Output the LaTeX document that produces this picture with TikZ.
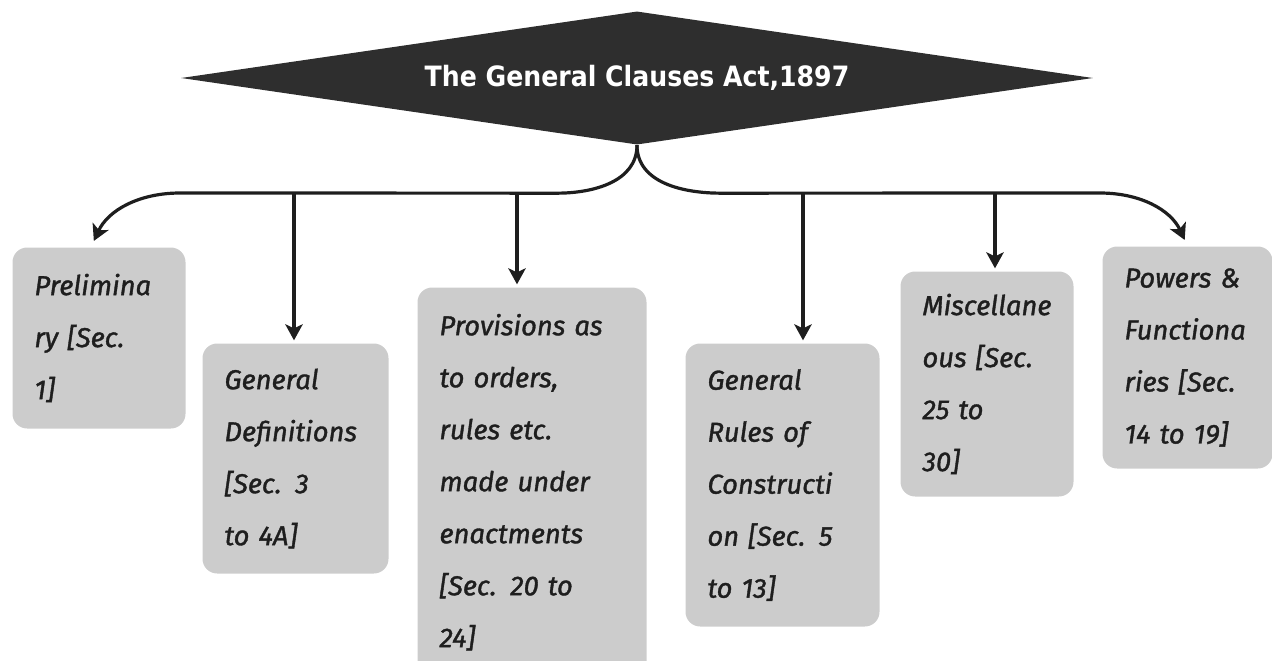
\documentclass[tikz,border=0pt]{standalone}
\usepackage{fontspec}
\setmainfont{Fira Sans}
\newfontfamily\titlefont{DejaVu Sans Condensed}
\newfontfamily\boxfont{Fira Sans}[FakeBold=1.3]
\usetikzlibrary{shapes.geometric,arrows.meta}

\definecolor{actfill}{HTML}{2E2E2E}
\definecolor{boxgray}{HTML}{CCCCCC}
\definecolor{inkdark}{HTML}{1E1E1E}

\tikzset{every picture/.style={line width=0.75pt}}
\tikzset{
  actshape/.style={diamond, fill=actfill, aspect=6.84, minimum width=684pt, minimum height=100pt, inner sep=0pt, text=white, font=\titlefont\bfseries\fontsize{21pt}{25pt}\selectfont},
  secbox/.style={anchor=north west, fill=boxgray, rounded corners=11pt, inner xsep=16.5pt, inner ysep=6pt, align=left, text=inkdark, font=\boxfont\fontsize{20.5pt}{39pt}\selectfont\itshape},
  link/.style={draw=inkdark, line width=2.4pt, -{Stealth[length=12pt,width=13pt,inset=3pt]}},
}

\begin{document}
\begin{tikzpicture}[x=0.75pt,y=0.75pt,yscale=-1,xscale=1]
%set diagram left start at 0, and has height of 661
\clip (0,0) rectangle (1272,661);

%Shape: Diamond [id:act]
\node [actshape] (act) at (637,78) {The General Clauses Act,1897};

% Text Node
\node [secbox, text width=96.75pt, minimum height=135.75pt] (prelim) at (12,247) {Prelimina\\ry {[}Sec.\\1]};
% Text Node
\node [secbox, text width=106.5pt, minimum height=172.5pt] (defs) at (202,343) {General\\Definitions\\{[}Sec. 3\\to 4A]};
% Text Node
\node [secbox, text width=138.75pt, minimum height=292pt] (orders) at (417,287) {Provisions as\\to orders,\\rules etc.\\made under\\enactments\\{[}Sec. 20 to\\24]};
% Text Node
\node [secbox, text width=112.5pt, minimum height=212.25pt] (rules) at (685,343) {General\\Rules of\\Constructi\\on {[}Sec. 5\\to 13]};
% Text Node
\node [secbox, text width=96.75pt, minimum height=168.75pt] (misc) at (900,271) {Miscellane\\ous {[}Sec.\\25 to\\30]};
% Text Node
\node [secbox, text width=94.5pt, minimum height=166.5pt] (powers) at (1102,246) {Powers \&\\Functiona\\ries {[}Sec.\\14 to 19]};

%Shape: Bus with outer arrows (y is flipped, so angles are mirrored)
\draw [link, shorten >=5pt] (act.south) to[out=90,in=0] ++(-80,48) -- (180,193) to[out=180,in=-65] ([xshift=-6pt]prelim.north);
\draw [link, shorten >=5pt] (act.south) to[out=90,in=180] ++(84,48) -- (1100,193) to[out=0,in=-115] (powers.north);

%Shape: Drop points on the bus
\coordinate (j2) at (294,193);
\coordinate (j3) at (517,193);
\coordinate (j4) at (803,193);
\coordinate (j5) at (995,193);

\draw [link, shorten >=2pt] (j2) -- (j2 |- defs.north);
\draw [link, shorten >=2pt] (j3) -- (j3 |- orders.north);
\draw [link, shorten >=2pt] (j4) -- (j4 |- rules.north);
\draw [link, shorten >=2pt] (j5) -- (j5 |- misc.north);
\end{tikzpicture}
\end{document}
